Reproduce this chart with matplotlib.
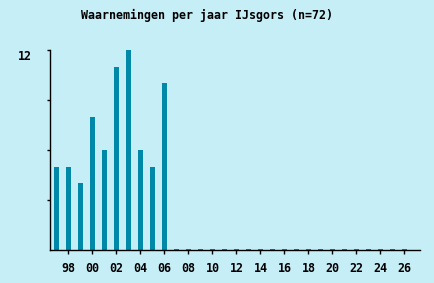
import matplotlib.pyplot as plt
import numpy as np

# --- DATA ---
years = list(range(1997, 2027))
counts = [5, 5, 4, 8, 6, 11, 12, 6, 5, 10] + [0] * 20
tick_years = list(range(1998, 2027, 2))
tick_labels = ["%02d" % (y % 100) for y in tick_years]
title = "Waarnemingen per jaar IJsgors (n=72)"

bg = "#c6eef7"
bar_color = "#0088a8"

fig = plt.figure(figsize=(4.35, 2.83), dpi=100, facecolor=bg)
ax = fig.add_axes([50 / 435, 33 / 283, 370 / 435, 200 / 283])
ax.set_facecolor(bg)

# zero years still get a tiny stub, like the original
heights = np.maximum(np.array(counts, dtype=float), 0.09)
ax.bar(years, heights, width=0.42, color=bar_color)

ax.set_xlim(1996.47, 2027.3)
ax.set_ylim(0, 12)

ax.set_xticks(tick_years)
ax.set_xticklabels(tick_labels, family="DejaVu Sans Mono", weight="bold", size=8.4)
ax.set_yticks([3, 6, 9, 12])
ax.set_yticklabels(["", "", "", "12"], family="DejaVu Sans Mono", weight="bold",
                   size=8.4, va="top")
ax.tick_params(axis="x", length=3, width=1, pad=6)
ax.tick_params(axis="y", length=2, width=1, pad=11)

for s in ["top", "right"]:
    ax.spines[s].set_visible(False)
for s in ["left", "bottom"]:
    ax.spines[s].set_linewidth(1)

fig.text(0.476, 0.945, title, ha="center", va="center",
         family="DejaVu Sans Mono", weight="bold", size=8.4)

fig.savefig("out.png", dpi=100, facecolor=bg)
